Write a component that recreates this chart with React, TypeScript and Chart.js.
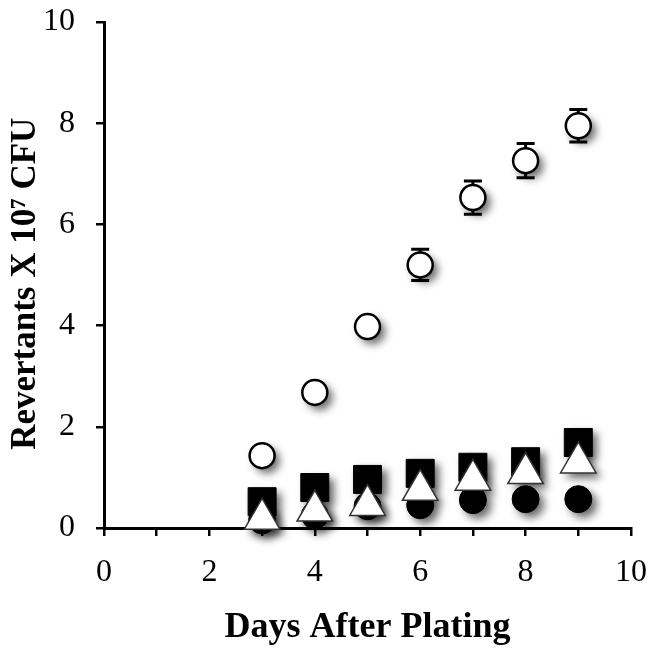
import React, { useEffect, useRef } from "react";
import { Chart, registerables } from "chart.js";

Chart.register(...registerables);

const days = [3, 4, 5, 6, 7, 8, 9];
const openCircles = [1.43, 2.68, 3.98, 5.2, 6.53, 7.26, 7.95];
const openCircleErr = [0, 0.12, 0.15, 0.31, 0.33, 0.34, 0.32];
const blackSquares = [0.52, 0.8, 0.96, 1.08, 1.2, 1.31, 1.69];
const openTriangles = [0.18, 0.34, 0.45, 0.75, 0.95, 1.08, 1.29];
const blackCircles = [0.15, 0.25, 0.43, 0.45, 0.55, 0.57, 0.57];

const xTickLabels = ["0", "2", "4", "6", "8", "10"];
const xTitle = "Days After Plating";
const yTitle = "Revertants X 10\u2077 CFU  ";

const toPoints = (ys: number[]) => days.map((d, i) => ({ x: d, y: ys[i] }));

const shadowPlugin = {
  id: "shadowPlugin",
  beforeDatasetsDraw(chart: any) {
    const ctx = chart.ctx;
    const xs = chart.scales.x;
    const ys = chart.scales.y;
    ctx.save();
    ctx.strokeStyle = "#000";
    ctx.lineWidth = 3;
    days.forEach((d, i) => {
      const e = openCircleErr[i];
      if (!e) return;
      const px = xs.getPixelForValue(d);
      const top = ys.getPixelForValue(openCircles[i] + e);
      const bot = ys.getPixelForValue(openCircles[i] - e);
      ctx.beginPath();
      ctx.moveTo(px, top);
      ctx.lineTo(px, bot);
      ctx.moveTo(px - 9, top);
      ctx.lineTo(px + 9, top);
      ctx.moveTo(px - 9, bot);
      ctx.lineTo(px + 9, bot);
      ctx.stroke();
    });
    ctx.restore();
    ctx.save();
    ctx.shadowColor = "rgba(0,0,0,0.6)";
    ctx.shadowBlur = 8;
    ctx.shadowOffsetX = 5;
    ctx.shadowOffsetY = 5;
    const origStroke = ctx.stroke;
    ctx.stroke = function (...args: any[]) {
      const c = this.shadowColor;
      this.shadowColor = "rgba(0,0,0,0)";
      origStroke.apply(this, args);
      this.shadowColor = c;
    };
  },
  afterDatasetsDraw(chart: any) {
    const ctx = chart.ctx;
    delete ctx.stroke;
    ctx.restore();
  },
};

export default function App() {
  const ref = useRef<HTMLCanvasElement | null>(null);
  useEffect(() => {
    document.body.style.margin = "0";
    if (!ref.current) return;
    const serif = "'Liberation Serif', 'Times New Roman', serif";
    const chart = new Chart(ref.current, {
      type: "scatter",
      data: {
        datasets: [
          {
            label: "Open triangles",
            data: toPoints(openTriangles),
            pointStyle: "triangle",
            pointRadius: 20.5,
            backgroundColor: "#ffffff",
            borderColor: "#333333",
            borderWidth: 1.5,
            clip: false,
          },
          {
            label: "Black circles",
            data: toPoints(blackCircles),
            pointStyle: "circle",
            pointRadius: 13.5,
            backgroundColor: "#000000",
            borderColor: "#000000",
            borderWidth: 1,
            clip: false,
          },
          {
            label: "Black squares",
            data: toPoints(blackSquares),
            pointStyle: "rect",
            pointRadius: 19.8,
            backgroundColor: "#000000",
            borderColor: "#000000",
            borderWidth: 1,
            clip: false,
          },
          {
            label: "Open circles",
            data: toPoints(openCircles),
            pointStyle: "circle",
            pointRadius: 12.5,
            backgroundColor: "#ffffff",
            borderColor: "#000000",
            borderWidth: 2.5,
            clip: false,
          },
        ] as any,
      },
      options: {
        responsive: false,
        animation: false,
        devicePixelRatio: 1,
        layout: { padding: { top: 16, right: 25, left: 0, bottom: 0 } },
        plugins: { legend: { display: false }, tooltip: { enabled: false } },
        scales: {
          x: {
            type: "linear",
            min: 0,
            max: 10,
            ticks: {
              stepSize: 1,
              autoSkip: false,
              maxRotation: 0,
              padding: 17,
              color: "#000",
              font: { family: serif, size: 32 },
              callback: (v: any) => {
                const s = String(v);
                return xTickLabels.includes(s) ? s : "";
              },
            },
            grid: {
              display: true,
              drawOnChartArea: false,
              drawTicks: true,
              tickLength: 8,
              color: "#000",
              lineWidth: 2.5,
            },
            border: { display: true, color: "#000", width: 3 },
            title: {
              display: true,
              text: xTitle,
              color: "#000",
              font: { family: serif, size: 36, weight: "bold" },
              padding: { top: 0, bottom: 4 },
            },
            afterFit: (s: any) => {
              s.height = 125;
              s.paddingLeft = 0;
              s.paddingRight = 0;
            },
          },
          y: {
            type: "linear",
            min: 0,
            max: 10,
            ticks: {
              stepSize: 2,
              padding: 21,
              color: "#000",
              font: { family: serif, size: 32 },
            },
            grid: {
              display: true,
              drawOnChartArea: false,
              drawTicks: true,
              tickLength: 8,
              color: "#000",
              lineWidth: 2.5,
            },
            border: { display: true, color: "#000", width: 3 },
            title: {
              display: true,
              text: yTitle,
              color: "#000",
              font: { family: serif, size: 35, weight: "bold" },
              padding: { top: 5, bottom: 0 },
            },
            afterFit: (s: any) => {
              s.width = 104;
              s.paddingTop = 0;
              s.paddingBottom = 0;
            },
          },
        },
      } as any,
      plugins: [shadowPlugin],
    });
    return () => chart.destroy();
  }, []);
  return (
    <canvas
      ref={ref}
      width={656}
      height={653}
      style={{ display: "block", width: 656, height: 653 }}
    />
  );
}
